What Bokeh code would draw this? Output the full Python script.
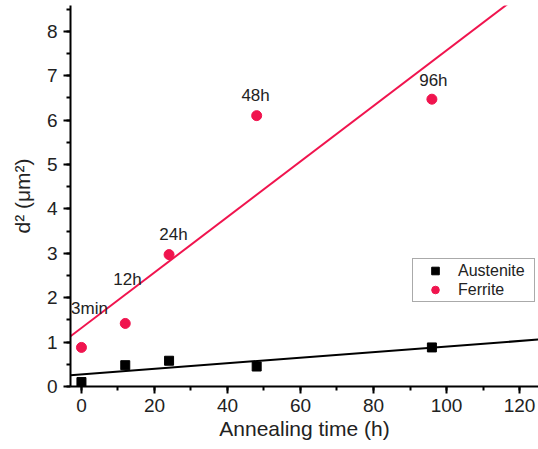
import numpy as np
from bokeh.plotting import figure
from bokeh.models import ColumnDataSource, Range1d, Legend, LegendItem, FixedTicker
from bokeh.core.properties import value
from bokeh.embed import file_html
from bokeh.resources import INLINE

# data
time_h = [0, 12, 24, 48, 96]
austenite = [0.10, 0.48, 0.58, 0.45, 0.88]
ferrite = [0.88, 1.42, 2.97, 6.10, 6.47]
label_text = ["3min", "12h", "24h", "48h", "96h"]
label_x = [2.2, 12.6, 25.2, 47.7, 96.4]
label_y = [1.76, 2.41, 3.42, 6.55, 6.89]
x_ticks = [0, 20, 40, 60, 80, 100, 120]
y_ticks = [0, 1, 2, 3, 4, 5, 6, 7, 8]

RED = "#f0144e"
FONT = "Liberation Sans"

p = figure(width=538, height=449, output_backend="svg", toolbar_location=None,
           x_range=Range1d(-3.0, 125.2), y_range=Range1d(0, 8.58),
           min_border_left=70, min_border_right=0, min_border_top=5, min_border_bottom=63)
p.outline_line_color = None
p.grid.visible = False
p.background_fill_color = "white"

# fit lines
xs = np.array([-3.0, 125.2])
ka, ba = np.polyfit(time_h, austenite, 1)
kf, bf = np.polyfit(time_h, ferrite, 1)
p.line(xs, ka * xs + ba, line_color="black", line_width=2)
p.line(xs, kf * xs + bf, line_color=RED, line_width=2)

src = ColumnDataSource(dict(x=time_h, a=austenite, f=ferrite))
ra = p.scatter("x", "a", source=src, marker="square", size=9, fill_color="black", line_color="black")
rf = p.scatter("x", "f", source=src, marker="circle", size=10, fill_color=RED, line_color=RED)

lsrc = ColumnDataSource(dict(x=label_x, y=label_y, t=label_text))
p.text("x", "y", text="t", source=lsrc, text_align="center", text_baseline="middle",
       text_font=value(FONT), text_font_size="17px", text_color="#222222")

legend = Legend(items=[LegendItem(label="Austenite", renderers=[ra]),
                       LegendItem(label="Ferrite", renderers=[rf])],
                location=(342, 84), border_line_color="#555555", border_line_width=1,
                label_text_font=FONT, label_text_font_size="16px", label_text_color="#222222",
                glyph_width=40, glyph_height=19, label_height=19, label_width=74, spacing=0,
                padding=2, margin=0, label_standoff=3)
p.add_layout(legend, "center")

for ax in (p.xaxis[0], p.yaxis[0]):
    ax.axis_line_width = 2
    ax.major_tick_line_width = 2
    ax.minor_tick_line_width = 2
    ax.major_tick_out = 7
    ax.major_tick_in = 0
    ax.minor_tick_out = 4
    ax.minor_tick_in = 0
    ax.major_label_text_font = FONT
    ax.major_label_text_font_size = "19px"
    ax.major_label_text_color = "#222222"
    ax.axis_label_text_font = FONT
    ax.axis_label_text_font_size = "21px"
    ax.axis_label_text_font_style = "normal"
    ax.axis_label_text_color = "#222222"

p.xaxis.ticker = FixedTicker(ticks=x_ticks, minor_ticks=list(range(0, 130, 10)))
p.yaxis.ticker = FixedTicker(ticks=y_ticks, minor_ticks=[i * 0.5 for i in range(0, 18)])
p.xaxis.axis_label = "Annealing time (h)"
p.yaxis.axis_label = "d² (μm²)"
p.xaxis.major_label_standoff = 5
p.yaxis.major_label_standoff = 6
p.xaxis.axis_label_standoff = 2
p.yaxis.axis_label_standoff = 10

open("out.html", "w").write(file_html(p, INLINE))
